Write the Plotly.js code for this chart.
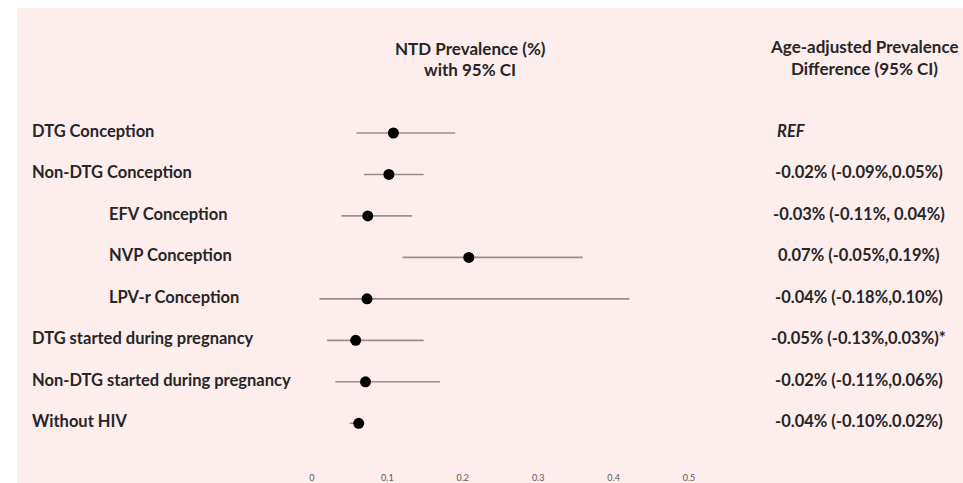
<!DOCTYPE html>
<html>
<head>
<meta charset="utf-8">
<script src="https://cdn.plot.ly/plotly-3.0.1.min.js"></script>
<style>
  html, body { margin: 0; padding: 0; background: #ffffff; width: 963px; height: 483px; overflow: hidden; }
  #chart { position: absolute; left: 17px; top: 8px; width: 946px; height: 475px; }
</style>
</head>
<body>
<div id="chart"></div>
<script>
// Groups (row labels)
const groups = [
  "DTG Conception",
  "Non-DTG Conception",
  "EFV Conception",
  "NVP Conception",
  "LPV-r Conception",
  "DTG started during pregnancy",
  "Non-DTG started during pregnancy",
  "Without HIV"
];
// Indented sub-groups
const indented = [false, false, true, true, true, false, false, false];
// NTD prevalence (%) with 95% CI
const prevalence = [0.108, 0.102, 0.074, 0.208, 0.073, 0.058, 0.071, 0.062];
const ciLow      = [0.059, 0.069, 0.039, 0.120, 0.010, 0.020, 0.031, 0.050];
const ciHigh     = [0.190, 0.148, 0.133, 0.359, 0.421, 0.148, 0.170, 0.065];
// Age-adjusted prevalence difference text
const diffText = [
  "REF",
  "-0.02% (-0.09%,0.05%)",
  "-0.03% (-0.11%, 0.04%)",
  "0.07% (-0.05%,0.19%)",
  "-0.04% (-0.18%,0.10%)",
  "-0.05% (-0.13%,0.03%)*",
  "-0.02% (-0.11%,0.06%)",
  "-0.04% (-0.10%.0.02%)"
];
// Tick labels
const tickVals = [0, 0.1, 0.2, 0.3, 0.4, 0.5];
const tickText = ["0", "0.1", "0.2", "0.3", "0.4", "0.5"];

const FONT = "Lato, 'Open Sans', sans-serif";
const TXT = "#262626";

const trace = {
  type: "scatter",
  mode: "markers",
  x: prevalence,
  y: groups,
  marker: { color: "#000000", size: 11 },
  error_x: {
    type: "data",
    symmetric: false,
    array: prevalence.map((p, i) => ciHigh[i] - p),
    arrayminus: prevalence.map((p, i) => p - ciLow[i]),
    width: 0,
    thickness: 1.6,
    color: "#9b8f90"
  },
  hoverinfo: "skip",
  showlegend: false
};

const annotations = [];
groups.forEach((g, i) => {
  annotations.push({
    xref: "paper", yref: "y", x: indented[i] ? 0.0951 : 0.0137, y: g,
    xanchor: "left", yanchor: "middle", showarrow: false, yshift: 2,
    text: "<b>" + g + "</b>",
    font: { family: FONT, size: 16.5, color: TXT }
  });
  const isRef = diffText[i] === "REF";
  annotations.push({
    xref: "paper", yref: "y", x: isRef ? 0.8013 : 0.890, y: g,
    xanchor: isRef ? "left" : "center", yanchor: "middle", showarrow: false, yshift: 2,
    text: isRef ? "<b><i>" + diffText[i] + "</i></b>" : "<b>" + diffText[i] + "</b>",
    font: { family: FONT, size: 16.5, color: TXT }
  });
});
// Column headers
[["NTD Prevalence (%)", 0.4789, 0.9136], ["with 95% CI", 0.4789, 0.8661],
 ["Age-adjusted Prevalence", 0.8964, 0.9179], ["Difference (95% CI)", 0.8964, 0.8683]]
.forEach(h => annotations.push({
  xref: "paper", yref: "paper", x: h[1], y: h[2],
  xanchor: "center", yanchor: "middle", showarrow: false,
  text: "<b>" + h[0] + "</b>",
  font: { family: FONT, size: 17, color: TXT }
}));

const layout = {
  width: 946, height: 475,
  margin: { l: 0, r: 0, t: 0, b: 12 },
  paper_bgcolor: "#fdeded",
  plot_bgcolor: "#fdeded",
  font: { family: FONT, color: TXT },
  xaxis: {
    range: [-0.3912, 0.8634],
    tickvals: tickVals, ticktext: tickText,
    showgrid: false, zeroline: false, showline: false, ticks: "",
    tickfont: { size: 9, color: "#5a5a5a" },
    fixedrange: true
  },
  yaxis: {
    type: "category",
    range: [8.151, -3.014],
    showticklabels: false, showgrid: false, zeroline: false, showline: false, ticks: "",
    fixedrange: true
  },
  annotations: annotations
};

Plotly.newPlot("chart", [trace], layout, { displayModeBar: false, staticPlot: true });
</script>
</body>
</html>
